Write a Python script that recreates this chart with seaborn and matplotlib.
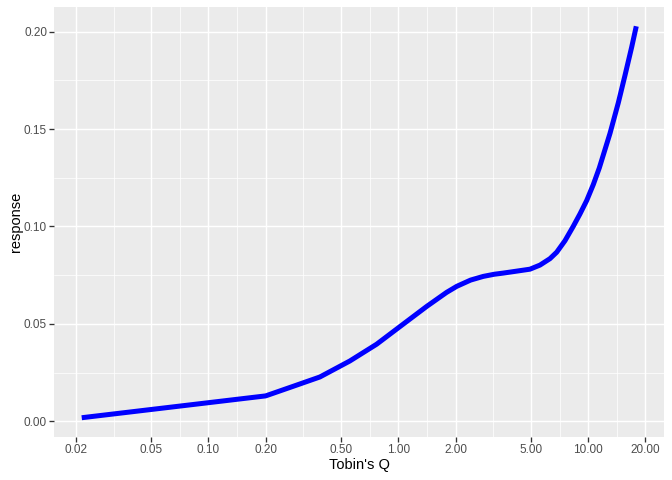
import numpy as np
import pandas as pd
import seaborn as sns
import matplotlib.pyplot as plt
from matplotlib.ticker import FixedLocator, FixedFormatter, NullFormatter

# values
tobins_q = [0.0215, 0.2, 0.279, 0.386, 0.555, 0.768, 1.06, 1.41, 1.795, 2.03,
            2.4, 2.8, 3.2, 3.57, 4.2, 4.932, 5.569, 6.286, 6.82, 7.54, 8.34,
            9.04, 9.81, 10.63, 11.43, 13.02, 14.4, 15.61, 16.93, 17.9]
response = [0.0019, 0.0131, 0.0180, 0.0228, 0.0310, 0.0396, 0.0499, 0.0590, 0.0662,
            0.0693, 0.0725, 0.0744, 0.0755, 0.0761, 0.0771, 0.0781, 0.0802, 0.0835,
            0.0868, 0.0927, 0.1001, 0.1064, 0.1133, 0.1215, 0.1300, 0.1478, 0.1635,
            0.1775, 0.1920, 0.2027]

x_breaks = [0.02, 0.05, 0.10, 0.20, 0.50, 1.00, 2.00, 5.00, 10.00, 20.00]
y_breaks = [0.00, 0.05, 0.10, 0.15, 0.20]

df = pd.DataFrame({'tobins_q': tobins_q, 'response': response})

sns.set_theme(style="darkgrid")
plt.rcParams['font.family'] = ['Liberation Sans', 'DejaVu Sans']

fig, ax = plt.subplots(figsize=(7, 5), dpi=96)
fig.subplots_adjust(left=54/672, right=664/672, bottom=1-437.3/480, top=1-6.7/480)

sns.lineplot(data=df, x='tobins_q', y='response', color='blue', linewidth=3.75,
             ax=ax, sort=False, solid_joinstyle='round', solid_capstyle='butt')
ax.set_xscale('log')

# ggplot style 5% expansion (x in log space)
lx = np.log10([min(tobins_q), max(tobins_q)])
dx = (lx[1] - lx[0]) * 0.05
ax.set_xlim(10 ** (lx[0] - dx), 10 ** (lx[1] + dx))
dy = (max(response) - min(response)) * 0.05
ax.set_ylim(min(response) - dy, max(response) + dy)

# major and minor breaks (minor at midpoints in transformed space)
x_minor = [np.sqrt(a * b) for a, b in zip(x_breaks[:-1], x_breaks[1:])]
y_minor = [(a + b) / 2 for a, b in zip(y_breaks[:-1], y_breaks[1:])]
ax.xaxis.set_major_locator(FixedLocator(x_breaks))
ax.xaxis.set_major_formatter(FixedFormatter([f'{v:.2f}' for v in x_breaks]))
ax.xaxis.set_minor_locator(FixedLocator(x_minor))
ax.xaxis.set_minor_formatter(NullFormatter())
ax.yaxis.set_major_locator(FixedLocator(y_breaks))
ax.yaxis.set_major_formatter(FixedFormatter([f'{v:.2f}' for v in y_breaks]))
ax.yaxis.set_minor_locator(FixedLocator(y_minor))
ax.yaxis.set_minor_formatter(NullFormatter())

ax.set_facecolor('#EBEBEB')
ax.grid(which='major', color='white', linewidth=1.1)
ax.grid(which='minor', color='white', linewidth=0.55)
for s in ax.spines.values():
    s.set_visible(False)
ax.tick_params(which='major', length=3.7, width=1.0, color='#333333',
               labelsize=8.8, labelcolor='#4D4D4D', pad=1.5,
               bottom=True, left=True)
ax.tick_params(which='minor', length=0)

ax.set_xlabel("Tobin's Q", fontsize=11, color='black', labelpad=1)
ax.set_ylabel('response', fontsize=11, color='black', labelpad=1)

fig.savefig('out.png', dpi=96, facecolor='white')
